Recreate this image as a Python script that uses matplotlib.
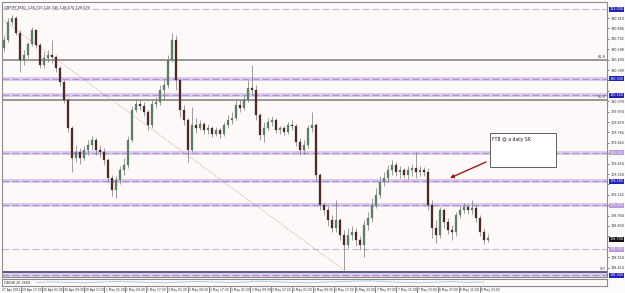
import matplotlib
matplotlib.use('Agg')
import matplotlib.pyplot as plt
from matplotlib.transforms import blended_transform_factory
from matplotlib.patches import Rectangle

# ---------------- data ----------------
title_text = "GBPJPY,M30  128.710 128.745 128.670 128.675"

opens = [130.61, 130.69, 130.87, 130.91, 130.76, 130.49, 130.54, 130.65, 130.79, 130.64,
         130.44, 130.51, 130.54, 130.52, 130.41, 130.27, 130.09, 129.81, 129.51, 129.57,
         129.51, 129.59, 129.64, 129.69, 129.59, 129.57, 129.49, 129.31, 129.19, 129.29,
         129.39, 129.44, 129.69, 129.99, 130.05, 130.03, 129.97, 129.84, 130.05, 130.07,
         130.19, 130.24, 130.49, 130.69, 130.29, 129.99, 129.89, 129.59, 129.84, 129.81,
         129.85, 129.79, 129.81, 129.75, 129.79, 129.75, 129.84, 129.89, 129.91, 130.04,
         130.01, 130.09, 130.21, 130.19, 129.94, 129.74, 129.81, 129.87, 129.89, 129.79,
         129.81, 129.77, 129.84, 129.83, 129.67, 129.59, 129.64, 129.81, 129.84, 129.34,
         129.04, 128.99, 128.89, 128.81, 128.89, 128.74, 128.64, 128.74, 128.77, 128.69,
         128.64, 128.84, 128.91, 129.04, 129.14, 129.27, 129.31, 129.39, 129.44, 129.37,
         129.39, 129.34, 129.39, 129.41, 129.37, 129.39, 129.37, 129.04, 128.81, 128.74,
         128.99, 128.87, 128.79, 128.77, 128.94, 128.99, 129.02, 128.99, 129.01, 128.91,
         128.77, 128.69]
highs = [130.74, 130.91, 130.94, 130.93, 130.79, 130.59, 130.67, 130.82, 130.80, 130.66,
         130.57, 130.59, 130.69, 130.54, 130.43, 130.29, 130.11, 129.83, 129.64, 129.61,
         129.63, 129.69, 129.73, 129.71, 129.64, 129.61, 129.51, 129.34, 129.33, 129.43,
         129.51, 129.73, 130.03, 130.10, 130.10, 130.07, 129.99, 130.09, 130.12, 130.24,
         130.29, 130.54, 130.76, 130.74, 130.31, 130.04, 129.91, 130.02, 129.91, 129.89,
         129.87, 129.85, 129.83, 129.82, 129.81, 129.87, 129.94, 129.97, 130.09, 130.09,
         130.14, 130.29, 130.44, 130.24, 129.96, 129.87, 129.91, 129.93, 129.91, 129.83,
         129.83, 129.87, 129.89, 129.85, 129.71, 129.69, 129.84, 129.97, 129.86, 129.36,
         129.07, 129.03, 128.94, 129.09, 128.91, 128.79, 128.81, 128.83, 128.81, 128.73,
         128.89, 128.97, 129.11, 129.21, 129.33, 129.37, 129.44, 129.49, 129.47, 129.43,
         129.41, 129.43, 129.45, 129.57, 129.43, 129.42, 129.41, 129.09, 128.89, 129.02,
         129.01, 128.91, 128.84, 128.97, 129.04, 129.06, 129.05, 129.09, 129.04, 128.94,
         128.81, 128.75]
lows = [130.57, 130.67, 130.84, 130.74, 130.37, 130.44, 130.51, 130.63, 130.61, 130.41,
        130.41, 130.47, 130.46, 130.37, 130.23, 130.06, 129.77, 129.37, 129.47, 129.45,
        129.49, 129.54, 129.59, 129.54, 129.52, 129.44, 129.27, 129.13, 129.11, 129.25,
        129.34, 129.41, 129.67, 129.97, 129.99, 129.93, 129.79, 129.81, 130.01, 130.04,
        130.09, 130.21, 130.47, 130.19, 129.92, 129.84, 129.47, 129.57, 129.76, 129.79,
        129.75, 129.75, 129.72, 129.73, 129.71, 129.73, 129.81, 129.85, 129.89, 129.97,
        129.99, 130.07, 130.14, 129.89, 129.69, 129.67, 129.79, 129.83, 129.76, 129.75,
        129.74, 129.75, 129.79, 129.63, 129.54, 129.55, 129.61, 129.77, 129.29, 128.99,
        128.94, 128.83, 128.77, 128.77, 128.69, 128.39, 128.61, 128.69, 128.63, 128.59,
        128.52, 128.79, 128.87, 129.01, 129.11, 129.23, 129.27, 129.34, 129.33, 129.31,
        129.31, 129.30, 129.33, 129.31, 129.33, 129.33, 128.99, 128.71, 128.66, 128.71,
        128.81, 128.75, 128.69, 128.73, 128.91, 128.96, 128.95, 128.95, 128.87, 128.73,
        128.65, 128.67]
closes = [130.69, 130.87, 130.91, 130.76, 130.49, 130.54, 130.65, 130.79, 130.64, 130.44,
          130.51, 130.54, 130.52, 130.41, 130.27, 130.09, 129.81, 129.51, 129.57, 129.51,
          129.59, 129.64, 129.69, 129.59, 129.57, 129.49, 129.31, 129.19, 129.29, 129.39,
          129.44, 129.69, 129.99, 130.05, 130.03, 129.97, 129.84, 130.05, 130.07, 130.19,
          130.24, 130.49, 130.69, 130.29, 129.99, 129.89, 129.59, 129.84, 129.81, 129.85,
          129.79, 129.81, 129.75, 129.79, 129.75, 129.84, 129.89, 129.91, 130.04, 130.01,
          130.09, 130.21, 130.19, 129.94, 129.74, 129.81, 129.87, 129.89, 129.79, 129.81,
          129.77, 129.84, 129.83, 129.67, 129.59, 129.64, 129.81, 129.84, 129.34, 129.04,
          128.99, 128.89, 128.81, 128.89, 128.74, 128.64, 128.74, 128.77, 128.69, 128.64,
          128.84, 128.91, 129.04, 129.14, 129.27, 129.31, 129.39, 129.44, 129.37, 129.39,
          129.34, 129.39, 129.41, 129.37, 129.39, 129.37, 129.04, 128.81, 128.74, 128.99,
          128.87, 128.79, 128.77, 128.94, 128.99, 129.02, 128.99, 129.01, 128.91, 128.77,
          128.69, 128.71]

# horizontal S/R levels (price) and their kinds
band_levels = [130.30, 130.14, 129.565, 129.28, 129.04, 128.34]
band_label_colors = ['#2222b8', '#2222b8', '#b89ad8', '#2222b8', '#b89ad8', '#2222b8']
thin_dash_levels = [131.00, 128.60]
thin_dash_label_colors = ['#2222b8', '#b89ad8']
fib_levels = [130.485, 130.09, 128.375]
fib_names = ["61.8", "50.0", "0.0"]
current_price = 128.70

price_ticks = [130.910, 130.806, 130.702, 130.598, 130.494, 130.390, 130.286, 130.182,
               130.078, 129.974, 129.870, 129.766, 129.662, 129.558, 129.454, 129.350,
               129.246, 129.142, 129.038, 128.934, 128.830, 128.726, 128.622, 128.518,
               128.414]

time_labels = ["29 Apr 17:30", "30 Apr 01:30", "30 Apr 09:30", "30 Apr 17:30",
               "1 May 01:30", "1 May 09:30", "1 May 17:30", "2 May 01:30", "2 May 09:30",
               "2 May 17:30", "3 May 01:30", "3 May 09:30", "3 May 17:30", "4 May 01:30",
               "4 May 09:30", "4 May 17:30", "6 May 23:00", "7 May 07:00", "7 May 15:00",
               "7 May 23:00", "8 May 07:00", "8 May 15:00", "8 May 23:00"]
first_time_label = "27 Apr 2012"

indicator_name = "GBDW 26.3689"
indicator_vals = [0.50, 0.58, 0.52, 0.45, 0.55, 0.66, 0.58, 0.50, 0.46, 0.55, 0.64, 0.58,
                  0.50, 0.56, 0.68, 0.60, 0.50, 0.46, 0.56, 0.62, 0.70, 0.72, 0.60, 0.50,
                  0.46, 0.56, 0.62, 0.52, 0.58]

trend_start = (-1.0, 130.91)
trend_end = (85.0, 128.39)
note_text = "FTB @ a daily SR"

# ---------------- layout ----------------
W, H = 625, 293
BG = '#fdf9f9'
fig = plt.figure(figsize=(W / 100, H / 100), dpi=100)
fig.patch.set_facecolor('#fcfafa')


def px_rect(x0, y0, x1, y1):
    return [x0 / W, 1 - y1 / H, (x1 - x0) / W, (y1 - y0) / H]


ax = fig.add_axes(px_rect(2, 2, 607, 277))
ax_ind = fig.add_axes(px_rect(2, 279, 607, 286))
ax.set_facecolor(BG)
ax_ind.set_facecolor(BG)
for a in (ax, ax_ind):
    for s in a.spines.values():
        s.set_color('#8c8c8c')
        s.set_linewidth(0.8)

XMIN, XMAX = -0.5, 150.75
ax.set_xlim(XMIN, XMAX)
ax.set_ylim(128.32, 131.07)
ax_ind.set_xlim(XMIN, XMAX)
ax_ind.set_ylim(0, 1)
ax_ind.set_xticks([])
ax_ind.set_yticks([])
ax.set_xticks([])

# horizontal levels
for lv in band_levels:
    ax.axhline(lv, color='#d9c9eb', lw=2.8, zorder=1)
    ax.axhline(lv, color='#ad92cf', lw=0.8, ls=(0, (6, 3)), zorder=1.1)
for lv in thin_dash_levels:
    ax.axhline(lv, color='#bdb5da', lw=0.8, ls=(0, (6, 3)), zorder=1.1)
ax.axhline(fib_levels[0], color='#7c7c7c', lw=1.1, zorder=1.2)
ax.axhline(fib_levels[1], color='#7c7c7c', lw=1.1, zorder=1.2)
ax.axhline(fib_levels[2], color='#2e2e5a', lw=1.1, zorder=1.2)
trans_r = blended_transform_factory(ax.transAxes, ax.transData)
for lv, nm in zip(fib_levels, fib_names):
    ax.text(0.997, lv + 0.01, nm, transform=trans_r, ha='right', va='bottom',
            fontsize=2.5, color='#333333')

# trend line
ax.plot([trend_start[0], trend_end[0]], [trend_start[1], trend_end[1]],
        color='#d48a8a', lw=0.6, ls=(0, (1, 1.5)), zorder=1.5)

# candles
xs = list(range(len(closes)))
ax.vlines(xs, lows, highs, color='#777777', lw=0.5, zorder=2)
bull_x = [x for x in xs if closes[x] >= opens[x]]
bear_x = [x for x in xs if closes[x] < opens[x]]
ax.bar(bull_x, [closes[x] - opens[x] + 0.004 for x in bull_x],
       bottom=[opens[x] for x in bull_x], width=0.5, color='#5a7f62',
       edgecolor='#5a7f62', lw=0.2, zorder=3)
ax.bar(bear_x, [opens[x] - closes[x] + 0.004 for x in bear_x],
       bottom=[closes[x] for x in bear_x], width=0.5, color='#4a2c24',
       edgecolor='#4a2c24', lw=0.2, zorder=3)

# title
ax.text(0.004, 0.985, title_text, transform=ax.transAxes, fontsize=2.6,
        color='#333333', va='top', ha='left')

# annotation box and arrow
ax.add_patch(Rectangle((121.5, 129.42), 16.5, 0.34, facecolor='white',
                       edgecolor='#606060', lw=0.7, zorder=4))
ax.text(122.1, 129.725, note_text, fontsize=3.3, color='#222222', va='top',
        ha='left', zorder=5)
ax.annotate('', xy=(111.5, 129.31), xytext=(120.5, 129.47),
            arrowprops=dict(arrowstyle='-|>', color='#a31616', lw=1.0,
                            mutation_scale=5, shrinkA=0, shrinkB=0), zorder=5)

# right price axis (tick labels hidden where a line-price box sits on top)
box_levels = band_levels + thin_dash_levels + [current_price]
ax.yaxis.tick_right()
ax.set_yticks(price_ticks)
ax.set_yticklabels([("" if any(abs(v - b) < 0.055 for b in box_levels) else f"{v:.3f}")
                    for v in price_ticks])
ax.tick_params(axis='y', labelsize=2.4, length=1.5, width=0.5, pad=1.2,
               colors='#555555', labelcolor='#333333')


def price_box(lv, color, txtcolor='white'):
    ax.text(1.0045, lv, f"{lv:.3f}", transform=trans_r, fontsize=2.4,
            color=txtcolor, va='center', ha='left', zorder=6,
            bbox=dict(boxstyle='square,pad=0.15', fc=color, ec='none'),
            clip_on=False)


for lv, c in zip(band_levels, band_label_colors):
    price_box(lv, c)
for lv, c in zip(thin_dash_levels, thin_dash_label_colors):
    price_box(lv, c)
price_box(current_price, '#111111')

# indicator panel
ind_x = [8 + 4 * k for k in range(len(indicator_vals))]
ax_ind.plot(ind_x, indicator_vals, color='#9cc2e4', lw=0.6)
ax_ind.text(0.003, 0.5, indicator_name, transform=ax_ind.transAxes, fontsize=2.4,
            color='#333333', va='center', ha='left',
            bbox=dict(boxstyle='square,pad=0.1', fc=BG, ec='none'))

# time axis labels
trans_t = blended_transform_factory(ax_ind.transData, ax_ind.transAxes)
ax_ind.text(XMIN + 0.1, -0.25, first_time_label, transform=trans_t, fontsize=2.2,
            color='#333333', va='top', ha='left', clip_on=False)
for k, lab in enumerate(time_labels):
    xpos = 4.25 + 5.2125 * k
    ax_ind.plot([xpos, xpos], [-0.15, -0.95], transform=trans_t, color='#555555',
                lw=0.5, clip_on=False)
    ax_ind.text(xpos + 0.3, -0.25, lab, transform=trans_t, fontsize=2.2,
                color='#333333', va='top', ha='left', clip_on=False)

fig.savefig('out.png', dpi=100, facecolor=fig.get_facecolor())
